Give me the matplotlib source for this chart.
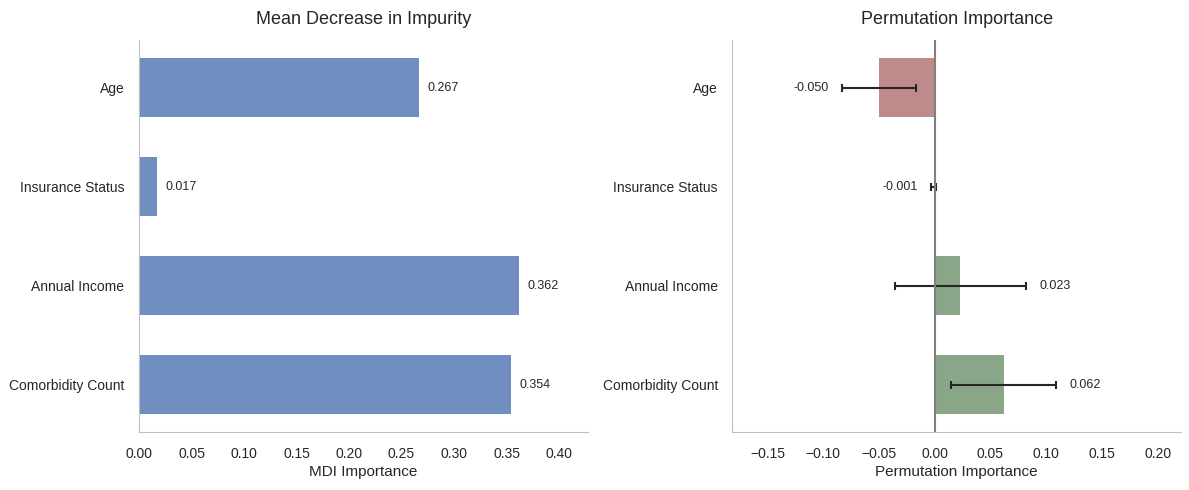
import matplotlib
matplotlib.use('Agg')
import matplotlib.pyplot as plt
import seaborn as sns
import numpy as np

features = ['Age', 'Insurance Status', 'Annual Income', 'Comorbidity Count']
mdi_importance = [0.267, 0.017, 0.362, 0.354]
perm_importance = [-0.050, -0.001, 0.023, 0.062]
perm_std = [0.033, 0.002, 0.059, 0.047]

sns.set_style('white')
plt.rcParams['font.family'] = ['Liberation Sans', 'DejaVu Sans']

fig, (ax1, ax2) = plt.subplots(1, 2, figsize=(11.89, 4.9), dpi=100)
fig.subplots_adjust(left=0.1169, right=0.9933, bottom=0.118, top=0.918, wspace=0.323)

y = np.arange(len(features))

# Left: MDI
ax1.barh(y, mdi_importance, height=0.6, color='#4C72B0', alpha=0.8, linewidth=0)
for yi, v in zip(y, mdi_importance):
    ax1.text(v + 0.008, yi, f'{v:.3f}', va='center', ha='left', fontsize=9, color='#262626')
ax1.set_yticks(y)
ax1.set_yticklabels(features)
ax1.invert_yaxis()
ax1.set_xlim(0, max(mdi_importance) * 1.18)
ax1.set_xlabel('MDI Importance', fontsize=11, labelpad=3)
ax1.set_title('Mean Decrease in Impurity', fontsize=13, pad=12)

# Right: permutation
colors = ['#bf8a8a' if v < 0 else '#89a689' for v in perm_importance]
ax2.barh(y, perm_importance, height=0.6, color=colors, linewidth=0,
         xerr=perm_std, error_kw=dict(ecolor='#262626', elinewidth=1.5, capsize=3, capthick=1.5))
ax2.axvline(0, color='gray', lw=1.5)
for yi, v, s in zip(y, perm_importance, perm_std):
    if v < 0:
        ax2.text(v - s - 0.012, yi, f'{v:.3f}', va='center', ha='right', fontsize=9, color='#262626')
    else:
        ax2.text(v + s + 0.012, yi, f'{v:.3f}', va='center', ha='left', fontsize=9, color='#262626')
ax2.set_yticks(y)
ax2.set_yticklabels(features)
ax2.invert_yaxis()
ax2.set_xlim(-0.1815, 0.221)
ax2.set_xlabel('Permutation Importance', fontsize=11, labelpad=3)
ax2.set_title('Permutation Importance', fontsize=13, pad=12)

for ax in (ax1, ax2):
    ax.tick_params(axis='both', labelsize=10, pad=7, colors='#262626')
    sns.despine(ax=ax)
    for sp in ('left', 'bottom'):
        ax.spines[sp].set_color('#bfbfbf')

fig.savefig('out.png', dpi=100)
